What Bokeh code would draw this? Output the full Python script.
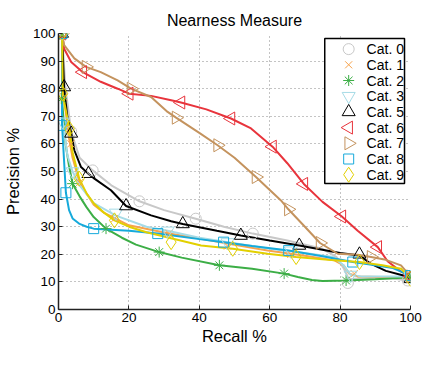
import math
from bokeh.plotting import figure
from bokeh.models import Label, FixedTicker
from bokeh.core.properties import value
from bokeh.embed import file_html
from bokeh.resources import INLINE

categories = ["Cat. 0", "Cat. 1", "Cat. 2", "Cat. 3", "Cat. 5", "Cat. 6", "Cat. 7", "Cat. 8", "Cat. 9"]

# line data (recall %, precision %)
cat0_x = [1, 2, 3.6, 6, 9.7, 15, 23, 30, 39, 47, 55.2, 65, 75, 79, 81, 82.5, 85, 95, 99.2, 100]
cat0_y = [100, 80, 64.5, 55, 50.4, 45, 39.2, 36, 32.9, 30, 27.5, 25, 22, 19, 15, 11, 11.2, 11.2, 10.5, 11]
cat0_mx = [1, 3.6, 9.7, 23, 39, 55.2, 82.2, 99.2]
cat0_my = [100, 64.5, 50.4, 39.2, 32.9, 27.5, 9.6, 10.5]

cat1_x = [1, 1.5, 3, 4, 6, 10, 13, 20, 31.4, 40.5, 50, 59.4, 70, 78.4, 81, 82.6, 85, 100]
cat1_y = [100, 77, 62, 55, 46, 38, 35, 30.5, 27.5, 25.6, 23.5, 21.4, 19.5, 17.8, 16, 13, 12, 11.5]
cat1_mx = [1, 1.5, 3.5, 6, 16, 31.4, 48, 66, 84, 100]
cat1_my = [100, 77, 60, 46, 33, 27.5, 23, 20, 13, 11.5]

cat2_x = [1, 1, 2, 3, 4, 6, 8, 10, 13.5, 18, 22, 28.6, 35, 45.7, 55, 64.1, 68, 72, 75, 81.7, 90, 100]
cat2_y = [100, 76, 60, 52, 45.6, 41, 37, 33.5, 29.3, 26, 23.5, 20.8, 18.8, 16, 14.8, 13, 11.8, 10.7, 10.3, 10.5, 11, 11.7]
cat2_mx = [1, 0.8, 4, 13.5, 28.6, 45.7, 64.1, 81.7, 100]
cat2_my = [100, 76.4, 45.6, 29.3, 20.8, 16, 13, 10.5, 11.7]

cat3_x = [1, 1, 2.5, 4, 6, 10, 16.3, 25, 31, 40, 50, 60, 70, 78, 81, 83, 86, 100]
cat3_y = [100, 70, 56, 50, 45, 38.5, 34, 30, 28.5, 26, 24, 22, 20.5, 19, 16, 12.5, 12, 12]
cat3_mx = [1, 1.2, 4, 16.3, 31, 48, 66, 83, 100]
cat3_my = [100, 68, 50, 35, 28.5, 24.3, 21.3, 12.5, 12]

cat5_x = [1, 1.6, 2.5, 3.6, 4.5, 6.4, 8.5, 10.2, 14.9, 19.2, 26.3, 32, 35.3, 45, 51.8, 60, 68.4, 80, 85.5, 88.8, 93, 98, 100]
cat5_y = [100, 80, 70, 64, 57.7, 51.6, 49.2, 47.4, 43.2, 37.5, 34.1, 32, 31, 28.5, 26.8, 25, 23.2, 20.5, 19.6, 16.5, 14, 12.3, 11.1]
cat5_mx = [1, 1.6, 3.6, 8.5, 19.2, 35.3, 51.8, 68.4, 85.5, 100]
cat5_my = [100, 80.6, 63.8, 49.2, 37.5, 31, 26.8, 23.2, 20, 11.1]

cat6_x = [1, 1.6, 3.6, 6.9, 12, 16.8, 20.1, 26.3, 32, 34.8, 42, 49, 54.7, 60.8, 65, 69.7, 75, 80.5, 85, 90.7, 93.5, 97, 100]
cat6_y = [100, 94.5, 89.7, 86, 82.5, 80, 78.2, 77.4, 75.8, 75, 72.5, 69.2, 65.6, 59, 53, 45.5, 39, 33.7, 28.5, 22.6, 17.5, 14, 12]
cat6_mx = [1, 6.9, 20.1, 34.8, 49, 60.8, 69.7, 80.5, 90.7, 100]
cat6_my = [100, 86, 78.2, 75, 69.2, 59, 45.5, 33.7, 22.6, 12]

cat7_x = [1, 1.6, 4.5, 7.8, 12, 16.8, 20.6, 26.3, 31, 33.4, 40, 45.2, 50, 56.1, 63.2, 65.3, 70, 74.3, 79.3, 85, 88.8, 93, 97.3, 100]
cat7_y = [100, 95.8, 91, 87.9, 86, 83, 80, 77, 71.6, 69.5, 64, 59.5, 55, 48, 39.5, 36.3, 30, 24.1, 20.2, 19.8, 19, 18, 16, 12]
cat7_mx = [1, 7.8, 20.6, 33.4, 45.2, 56.1, 65.3, 74.3, 88.8, 100]
cat7_my = [100, 87.9, 80, 69.5, 59.5, 48, 36.3, 24.1, 19, 12]

cat8_x = [1, 1, 2.1, 3, 4, 6, 8, 10, 20, 28.2, 40, 46.9, 55, 65.4, 75, 83.6, 90, 95, 100]
cat8_y = [100, 67, 42.3, 36, 33, 31, 30, 29.3, 28.5, 27.5, 25.5, 24.4, 23, 21.4, 19.3, 17.2, 16, 15, 12.3]
cat8_mx = [1, 0.7, 2.1, 10, 28.2, 46.9, 65.4, 83.6, 100]
cat8_my = [100, 66.7, 42.3, 29.3, 27.5, 24.4, 21.4, 17.2, 12.3]

cat9_x = [1, 1.2, 3.1, 4, 5.9, 8, 10, 13, 15.9, 20, 25, 32, 40.5, 49.5, 59.4, 67.5, 78.3, 85.5, 92, 97.3, 100]
cat9_y = [100, 78, 65.5, 57, 47.4, 42, 38.5, 35, 32.3, 30, 28, 25.8, 23.2, 22, 20.2, 19, 17.8, 17.2, 16, 14.8, 11.1]
cat9_mx = [1, 1.2, 3.1, 5.9, 15.9, 32, 49.5, 67.5, 85.5, 100]
cat9_my = [100, 78.2, 65.5, 47.4, 32.3, 24.4, 22, 19, 17.2, 11.1]

x_ticks = [0, 20, 40, 60, 80, 100]
y_ticks = [0, 10, 20, 30, 40, 50, 60, 70, 80, 90, 100]

series = [
    (cat0_x, cat0_y, cat0_mx, cat0_my, "#c8c8c8", "circle", 0.0, 11),
    (cat1_x, cat1_y, cat1_mx, cat1_my, "#f7a34c", "x", 0.0, 10),
    (cat2_x, cat2_y, cat2_mx, cat2_my, "#3cae46", "asterisk", 0.0, 11),
    (cat3_x, cat3_y, cat3_mx, cat3_my, "#a6dbe6", "inverted_triangle", 0.0, 13),
    (cat5_x, cat5_y, cat5_mx, cat5_my, "#000000", "triangle", 0.0, 13),
    (cat6_x, cat6_y, cat6_mx, cat6_my, "#e8343c", "triangle", math.pi / 2, 13),
    (cat7_x, cat7_y, cat7_mx, cat7_my, "#c4935e", "triangle", -math.pi / 2, 13),
    (cat8_x, cat8_y, cat8_mx, cat8_my, "#16aadb", "square", 0.0, 10),
    (cat9_x, cat9_y, cat9_mx, cat9_my, "#e2d000", "diamond", 0.0, 15),
]

W, H = 422, 389
BL, BR, BT, BB = 57, 12, 33, 80
p = figure(width=W, height=H, x_range=(0, 100), y_range=(0, 100),
           output_backend="svg", toolbar_location=None,
           min_border_left=BL, min_border_right=BR, min_border_top=BT, min_border_bottom=BB)
p.title.text = "Nearness Measure"
p.title.align = "center"
p.title.text_font = "Liberation Sans"
p.title.text_font_size = "16px"
p.title.text_font_style = "normal"
p.title.text_color = "black"
p.title.offset = 0
p.outline_line_color = None

for ax in (p.xaxis[0], p.yaxis[0]):
    ax.axis_line_width = 1.5
    ax.axis_line_color = "#222222"
    ax.major_tick_in = 4
    ax.major_tick_out = 0
    ax.minor_tick_in = 0
    ax.minor_tick_out = 0
    ax.major_tick_line_color = "#222222"
    ax.major_label_text_font = "Liberation Sans"
    ax.major_label_text_font_size = "13.5px"
    ax.major_label_text_color = "black"
    ax.axis_label_text_font = "Liberation Sans"
    ax.axis_label_text_font_size = "16.5px"
    ax.axis_label_text_font_style = "normal"
    ax.axis_label_text_color = "black"

p.xaxis.ticker = FixedTicker(ticks=x_ticks)
p.yaxis.ticker = FixedTicker(ticks=y_ticks)
p.xaxis.axis_label = "Recall %"
p.yaxis.axis_label = "Precision %"
p.xaxis.major_label_standoff = 3
p.yaxis.major_label_standoff = 3
p.xaxis.axis_label_standoff = 2
p.yaxis.axis_label_standoff = 8

for g in (p.xgrid[0], p.ygrid[0]):
    g.grid_line_color = "#888888"
    g.grid_line_dash = "1 3"
    g.grid_line_width = 1

for (lx, ly, mx, my, col, mk, ang, sz) in series:
    p.line(lx, ly, line_color=col, line_width=2)
for (lx, ly, mx, my, col, mk, ang, sz) in series:
    p.scatter(mx, my, marker=mk, size=sz, angle=ang, line_color=col,
              fill_alpha=0, line_width=1)

# hand-built legend (pixel positions converted to data space)
fw = W - BL - BR
fh = H - BT - BB
def dx(px):
    return (px - BL) * 100.0 / fw
def dy(py):
    return (H - BB - py) * 100.0 / fh

p.quad(left=[dx(324)], right=[dx(404)], top=[dy(38)], bottom=[dy(183)],
       fill_color="white", line_color="black", line_width=1.5)
rows_py = [48.6 + i * 15.7 for i in range(len(categories))]
for (lx, ly, mx, my, col, mk, ang, sz), py in zip(series, rows_py):
    p.scatter([dx(348)], [dy(py)], marker=mk, size=sz, angle=ang, line_color=col,
              fill_alpha=0, line_width=1)
p.text(x=[dx(366)] * len(categories), y=[dy(py) for py in rows_py], text=categories,
       text_font=value("Liberation Sans"), text_font_size="14px",
       text_baseline="middle", text_align="left", text_color="black")

p.add_layout(Label(x=dx(210), y=dy(372), text="(a)", text_font="Liberation Serif",
                   text_font_size="20px", text_align="center", text_baseline="middle"))

open("out.html", "w").write(file_html(p, INLINE))
